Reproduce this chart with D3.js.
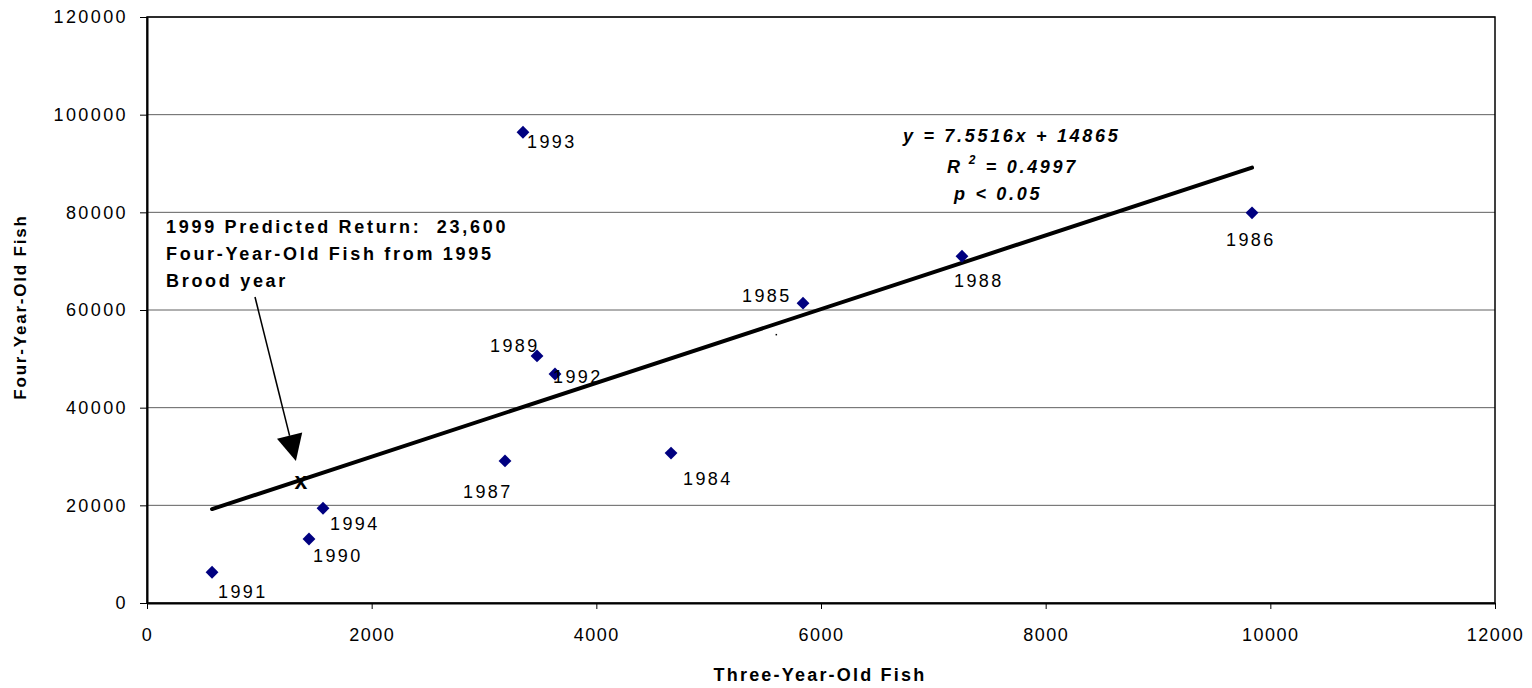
<!DOCTYPE html>
<html>
<head>
<meta charset="utf-8">
<script src="https://cdn.jsdelivr.net/npm/d3@7"></script>
<style>
  body { margin: 0; background: #fff; }
  text { font-family: "Liberation Sans", Arial, sans-serif; }
</style>
</head>
<body>
<svg id="chart" width="1532" height="688"></svg>
<script>
// brood years and returns
var years = [1984, 1985, 1986, 1987, 1988, 1989, 1990, 1991, 1992, 1993, 1994];
var threeYearOld = [4665, 5840, 9837, 3187, 7255, 3472, 1442, 579, 3632, 3347, 1567];
var fourYearOld = [30700, 61400, 79900, 29100, 71000, 50600, 13100, 6300, 46900, 96400, 19400];

var xTicks = [0, 2000, 4000, 6000, 8000, 10000, 12000];
var yTicks = [0, 20000, 40000, 60000, 80000, 100000, 120000];

var slope = 7.5516, intercept = 14865;
var predicted = [1370, 25200];

// label placement (dx, dy from the point)
var labelOffset = {
    1984: [12, 32], 1985: [-61, -1], 1986: [-26, 33], 1987: [-42, 37],
    1988: [-8, 31], 1989: [-47, -4], 1990: [4, 23], 1991: [6, 26],
    1992: [-2, 9], 1993: [4, 16], 1994: [7, 22]
};

var margin = {left: 147, right: 37, top: 17, bottom: 85};
var width = 1532, height = 688;

var svg = d3.select("#chart");

var x = d3.scaleLinear().domain([0, 12000]).range([margin.left, width - margin.right]);
var y = d3.scaleLinear().domain([0, 120000]).range([height - margin.bottom, margin.top]);

// gridlines
svg.append("g")
    .selectAll("line")
    .data(yTicks.slice(1))
    .enter()
    .append("line")
    .attr("x1", x(0)).attr("x2", x(12000))
    .attr("y1", function(d) { return y(d); })
    .attr("y2", function(d) { return y(d); })
    .attr("stroke", "#606060")
    .attr("stroke-width", 1);

// frame
svg.append("rect")
    .attr("x", x(0)).attr("y", y(120000))
    .attr("width", x(12000) - x(0))
    .attr("height", y(0) - y(120000))
    .attr("fill", "none")
    .attr("stroke", "#000")
    .attr("stroke-width", 1.5);

var xAxis = svg.append("g")
    .attr("transform", "translate(0," + y(0) + ")")
    .call(d3.axisBottom(x).tickValues(xTicks).tickSize(6).tickSizeOuter(0).tickPadding(19).tickFormat(d3.format("d")));
xAxis.select(".domain").attr("stroke-width", 2);
xAxis.selectAll("text")
    .style("font-size", "18px")
    .style("letter-spacing", "1.5px")
    .attr("fill", "#000");

var yAxis = svg.append("g")
    .attr("transform", "translate(" + x(0) + ",0)")
    .call(d3.axisLeft(y).tickValues(yTicks).tickSize(7).tickSizeOuter(0).tickPadding(12).tickFormat(d3.format("d")));
yAxis.select(".domain").attr("stroke-width", 2);
yAxis.selectAll("text")
    .style("font-size", "18px")
    .style("letter-spacing", "2.4px")
    .attr("fill", "#000");

// axis titles
svg.append("text")
    .attr("x", (x(0) + x(12000)) / 2 - 1)
    .attr("y", 681)
    .attr("text-anchor", "middle")
    .style("font-size", "18px")
    .style("font-weight", "bold")
    .style("letter-spacing", "2.2px")
    .text("Three-Year-Old Fish");

svg.append("text")
    .attr("transform", "translate(26,307) rotate(-90)")
    .attr("text-anchor", "middle")
    .style("font-size", "17px")
    .style("font-weight", "bold")
    .style("letter-spacing", "1.8px")
    .text("Four-Year-Old Fish");

// regression line
var xMin = d3.min(threeYearOld), xMax = d3.max(threeYearOld);
svg.append("line")
    .attr("x1", x(xMin)).attr("y1", y(slope * xMin + intercept))
    .attr("x2", x(xMax)).attr("y2", y(slope * xMax + intercept))
    .attr("stroke", "#000")
    .attr("stroke-width", 4)
    .attr("stroke-linecap", "round");

// points
var pts = years.map(function(yr, i) {
    return {year: yr, a: threeYearOld[i], b: fourYearOld[i]};
});

svg.append("g")
    .selectAll("path")
    .data(pts)
    .enter()
    .append("path")
    .attr("d", d3.symbol().type(d3.symbolDiamond2).size(105))
    .attr("transform", function(d) { return "translate(" + x(d.a) + "," + y(d.b) + ")"; })
    .attr("fill", "#000080");

svg.append("g")
    .selectAll("text")
    .data(pts)
    .enter()
    .append("text")
    .attr("x", function(d) { return x(d.a) + labelOffset[d.year][0]; })
    .attr("y", function(d) { return y(d.b) + labelOffset[d.year][1]; })
    .style("font-size", "18px")
    .style("letter-spacing", "2.4px")
    .attr("fill", "#000")
    .text(function(d) { return d.year; });

// stray dot
svg.append("rect")
    .attr("x", x(5600) - 0.5).attr("y", y(55000) - 0.5)
    .attr("width", 1.5).attr("height", 1.5)
    .attr("fill", "#000");

// predicted return marker
svg.append("text")
    .attr("x", x(predicted[0]))
    .attr("y", y(predicted[1]) + 9)
    .attr("text-anchor", "middle")
    .style("font-size", "23px")
    .style("font-weight", "bold")
    .text("x");

// arrow
var ax1 = 255, ay1 = 297, ax2 = x(predicted[0]) - 5, ay2 = y(predicted[1]) - 19;
var ang = Math.atan2(ay2 - ay1, ax2 - ax1);
var headLen = 26, headW = 13;
var bx = ax2 - headLen * Math.cos(ang), by = ay2 - headLen * Math.sin(ang);
svg.append("line")
    .attr("x1", ax1).attr("y1", ay1)
    .attr("x2", bx).attr("y2", by)
    .attr("stroke", "#000").attr("stroke-width", 1.5);
svg.append("path")
    .attr("d", "M" + ax2 + "," + ay2 +
        "L" + (bx + headW * Math.sin(ang)) + "," + (by - headW * Math.cos(ang)) +
        "L" + (bx - headW * Math.sin(ang)) + "," + (by + headW * Math.cos(ang)) + "Z")
    .attr("fill", "#000");

// annotation
var note = ["1999 Predicted Return:  23,600", "Four-Year-Old Fish from 1995", "Brood year"];
svg.append("text")
    .attr("x", 166).attr("y", 233)
    .style("font-size", "18px")
    .style("font-weight", "bold")
    .style("letter-spacing", "2.7px")
    .style("white-space", "pre")
    .selectAll("tspan")
    .data(note)
    .enter()
    .append("tspan")
    .attr("x", 166)
    .attr("dy", function(d, i) { return i === 0 ? 0 : 27; })
    .text(function(d) { return d; });

// equation
var eq = svg.append("g")
    .style("font-size", "18px")
    .style("font-weight", "bold")
    .style("font-style", "italic")
    .style("letter-spacing", "2.7px");
eq.append("text").attr("x", 903).attr("y", 142).text("y = 7.5516x + 14865");
var r2 = eq.append("text").attr("x", 947).attr("y", 173);
r2.append("tspan").text("R");
r2.append("tspan").attr("dy", -9).style("font-size", "12px").text(" 2");
r2.append("tspan").attr("dy", 9).text(" = 0.4997");
eq.append("text").attr("x", 954).attr("y", 200).text("p < 0.05");
</script>
</body>
</html>
